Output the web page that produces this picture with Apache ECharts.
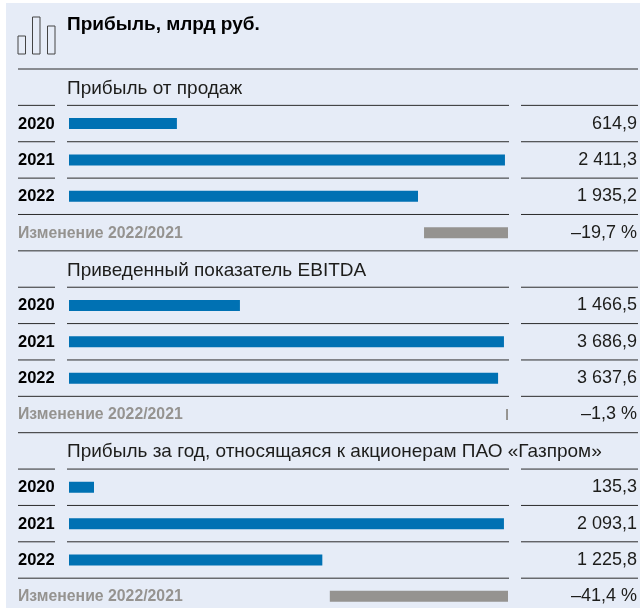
<!DOCTYPE html>
<html>
<head>
    <meta charset="UTF-8">
    <title>Прибыль</title>
    <script src="https://cdn.jsdelivr.net/npm/echarts@6/dist/echarts.min.js"></script>
    <style>
        html, body { margin: 0; width: 100%; height: 100%; background: #fff; overflow: hidden; }
        /* taller than the window: the last row's band runs past the bottom edge */
        #main { width: 640px; height: 620px; }
    </style>
</head>
<body>
    <div id="main"></div>
    <script type="text/javascript">
        var years = ['2020', '2021', '2022'];
        var changeName = 'Изменение 2022/2021';
        var chartTitle = 'Прибыль, млрд руб.';
        var groupNames = ['Прибыль от продаж', 'Приведенный показатель EBITDA', 'Прибыль за год, относящаяся к акционерам ПАО «Газпром»'];

        var salesProfit = [614.9, 2411.3, 1935.2];
        var ebitda = [1466.5, 3686.9, 3637.6];
        var netProfit = [135.3, 2093.1, 1225.8];
        var groupValues = [salesProfit, ebitda, netProfit];

        var changes = [19.7, 1.3, 41.4];
        var changeLabels = ['–19,7 %', '–1,3 %', '–41,4 %'];

        // axis ranges, fitted to the bar lengths in the picture
        var valueMin = [24, 29, 16];
        var valueMax = [2428, 3721, 2112.5];
        var changeMax = [103, 292, 102];

        var BLUE = '#0071b3', GREY = '#959390', INK = '#1d1d1b', BG = '#e6ecf7', RULE = '#2b2b2b';
        var FONT = '"Liberation Sans", Arial, sans-serif';
        var ROW = 36.37, TOP = 69;

        function fmt(v) {
            var s = v.toFixed(1).replace('.', ',');
            return s.replace(/^(\d+)(\d{3}),/, '$1 $2,');
        }
        function rowY(k) { return TOP + ROW * k; }

        var grids = [], xAxes = [], yAxes = [], series = [], titles = [];
        titles.push({
            text: chartTitle, left: 62, top: 10,
            textStyle: { fontFamily: FONT, fontSize: 19, fontWeight: 'bold', color: '#000' }
        });

        groupNames.forEach(function (name, g) {
            var first = g * 5;
            titles.push({
                text: name, left: 62, top: rowY(first) + 5,
                textStyle: { fontFamily: FONT, fontSize: 19, fontWeight: 'normal', color: INK }
            });
            grids.push({ left: 69, width: 439, top: rowY(first + 1), height: ROW * 4 });
            xAxes.push({ gridIndex: g, type: 'value', show: false, min: valueMin[g], max: valueMax[g] });
            xAxes.push({ gridIndex: g, type: 'value', show: false, min: 0, max: changeMax[g], inverse: true });
            var common = { gridIndex: g, type: 'category', inverse: true, axisLine: { show: false }, axisTick: { show: false } };
            yAxes.push(Object.assign({}, common, {
                position: 'left',
                data: years.concat(changeName),
                axisLabel: {
                    align: 'left', margin: 51, fontFamily: FONT,
                    formatter: function (v) {
                        return v === changeName ? '{c|' + v + '}' : '{y|' + v + '}';
                    },
                    rich: {
                        y: { fontFamily: FONT, fontSize: 16.5, fontWeight: 'bold', color: '#000', padding: [1, 0, 0, 0] },
                        c: { fontFamily: FONT, fontSize: 15.8, fontWeight: 'bold', color: GREY, padding: [1, 0, 0, 0] }
                    }
                }
            }));
            yAxes.push(Object.assign({}, common, {
                position: 'right',
                data: groupValues[g].map(fmt).concat(changeLabels[g]),
                axisLabel: { align: 'right', margin: 129, fontFamily: FONT, fontSize: 18, color: INK }
            }));
            series.push({
                type: 'bar', xAxisIndex: g * 2, yAxisIndex: g * 2, barWidth: 11, barGap: '-100%', silent: true,
                itemStyle: { color: BLUE },
                data: groupValues[g].concat([null])
            });
            series.push({
                type: 'bar', xAxisIndex: g * 2 + 1, yAxisIndex: g * 2, barWidth: 11, barGap: '-100%', silent: true,
                itemStyle: { color: GREY },
                data: [null, null, null, changes[g]]
            });
        });

        // decoration: panel, rules and the small bar icon
        var graphic = [{
            type: 'rect', z: -10, shape: { x: 6, y: 3, width: 634, height: 617 }, style: { fill: BG }
        }];
        function rule(x1, x2, k) {
            graphic.push({
                type: 'line', z: 1, shape: { x1: x1, y1: rowY(k), x2: x2, y2: rowY(k) },
                style: { stroke: RULE, lineWidth: 1 }
            });
        }
        for (var k = 0; k <= 14; k++) {
            var pos = k % 5;
            if (pos === 0) {
                rule(18, 638, k);
            } else if (pos === 4) {
                rule(18, 509, k);
                rule(521, 638, k);
            } else {
                rule(18, 55, k);
                rule(67, 509, k);
                rule(521, 638, k);
            }
        }
        [[18, 36, 7.5, 18], [32.5, 17, 7.5, 37], [47.5, 26, 7.5, 28]].forEach(function (r) {
            graphic.push({
                type: 'rect', z: 1, shape: { x: r[0], y: r[1], width: r[2], height: r[3] },
                style: { fill: 'none', stroke: '#444', lineWidth: 1 }
            });
        });

        var myChart = echarts.init(document.getElementById('main'));
        myChart.setOption({
            animation: false,
            title: titles,
            grid: grids,
            xAxis: xAxes,
            yAxis: yAxes,
            series: series,
            graphic: graphic
        });
    </script>
</body>
</html>
